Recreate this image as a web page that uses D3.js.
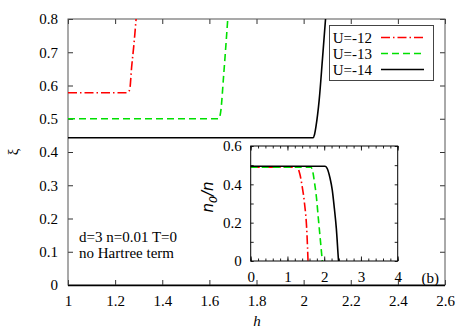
<!DOCTYPE html>
<html>
<head>
<meta charset="utf-8">
<script src="https://cdn.jsdelivr.net/npm/d3@7"></script>
<style>
  body { margin: 0; background: #fff; }
  text { font-family: "Liberation Serif", "DejaVu Serif", serif; font-size: 15px; fill: #000; }
</style>
</head>
<body>
<svg id="canvas"></svg>
<script>
// main panel data: xi vs h
let seriesNames = ['U=-12', 'U=-13', 'U=-14'];
let seriesColors = ['#ff0000', '#00e000', '#000000'];
let seriesDash = ['9,3,1.5,3', '7,4', null];

let hRed = [1.0, 1.249, 1.256, 1.262, 1.270, 1.280, 1.289];
let xiRed = [0.578, 0.578, 0.581, 0.588, 0.655, 0.725, 0.8];
let hGreen = [1.0, 1.638, 1.644, 1.649, 1.660, 1.670, 1.678];
let xiGreen = [0.5, 0.5, 0.506, 0.526, 0.625, 0.72, 0.8];
let hBlack = [1.0, 2.040, 2.046, 2.052, 2.066, 2.080, 2.093];
let xiBlack = [0.443, 0.443, 0.452, 0.475, 0.556, 0.68, 0.8];

// inset data: n0/n vs h
let hInRed = [0, 1.25, 1.30, 1.342, 1.40, 1.458, 1.532, 1.56];
let nInRed = [0.489, 0.489, 0.478, 0.45, 0.39, 0.311, 0.137, 0];
let hInGreen = [0, 1.64, 1.69, 1.731, 1.79, 1.84, 1.90, 1.948];
let nInGreen = [0.489, 0.489, 0.465, 0.416, 0.33, 0.224, 0.10, 0];
let hInBlack = [0, 2.02, 2.076, 2.158, 2.22, 2.275, 2.33, 2.384, 2.39];
let nInBlack = [0.494, 0.494, 0.485, 0.433, 0.37, 0.277, 0.17, 0.016, 0];

let xTicks = [1, 1.2, 1.4, 1.6, 1.8, 2, 2.2, 2.4, 2.6];
let yTicks = [0, 0.1, 0.2, 0.3, 0.4, 0.5, 0.6, 0.7, 0.8];
let inXTicks = [0, 1, 2, 3, 4];
let inYTicks = [0, 0.2, 0.4, 0.6];

let width = 473;
let height = 331;

let svg = d3.select('#canvas').attr('width', width).attr('height', height);

let xScale = d3.scaleLinear().domain([1, 2.6]).range([68, 445]);
let yScale = d3.scaleLinear().domain([0, 0.8]).range([285, 19]);

let ixScale = d3.scaleLinear().domain([0, 4]).range([250.7, 397.7]);
let iyScale = d3.scaleLinear().domain([0, 0.6]).range([261, 146]);

let mainSeries = [
  d3.zip(hRed, xiRed),
  d3.zip(hGreen, xiGreen),
  d3.zip(hBlack, xiBlack)
];
let insetSeries = [
  d3.zip(hInRed, nInRed),
  d3.zip(hInGreen, nInGreen),
  d3.zip(hInBlack, nInBlack)
];

// ---- main panel ----
svg.append('defs').append('clipPath').attr('id', 'clip')
  .append('rect')
  .attr('x', 68).attr('y', 19).attr('width', 377).attr('height', 266);

let xAxis = d3.axisBottom(xScale).tickValues(xTicks).tickSize(-5).tickPadding(10)
  .tickFormat(d3.format('~g'));
let yAxis = d3.axisLeft(yScale).tickValues(yTicks).tickSize(-5).tickPadding(10)
  .tickFormat(d3.format('~g'));

svg.append('g').attr('id', 'x-axis')
  .attr('transform', 'translate(0,285)')
  .call(xAxis)
  .call(g => g.select('.domain').remove());
svg.append('g').attr('id', 'y-axis')
  .attr('transform', 'translate(68,0)')
  .call(yAxis)
  .call(g => g.select('.domain').remove());
// mirrored ticks
svg.append('g').attr('transform', 'translate(0,19)')
  .call(d3.axisTop(xScale).tickValues(xTicks).tickSize(-5).tickFormat(''))
  .call(g => g.select('.domain').remove());
svg.append('g').attr('transform', 'translate(445,0)')
  .call(d3.axisRight(yScale).tickValues(yTicks).tickSize(-5).tickFormat(''))
  .call(g => g.select('.domain').remove());

svg.selectAll('.tick text')
  .style('font-family', '"Liberation Serif", serif')
  .style('font-size', '15px')
  .attr('fill', '#000');
svg.selectAll('.tick line').attr('stroke', '#333');

svg.append('rect')
  .attr('x', 68).attr('y', 19).attr('width', 377).attr('height', 266)
  .attr('fill', 'none').attr('stroke', '#555').attr('stroke-width', 1);
svg.append('line')
  .attr('x1', 68).attr('x2', 445).attr('y1', 285.5).attr('y2', 285.5)
  .attr('stroke', '#000').attr('stroke-width', 1.3);

let line = d3.line()
  .x(d => xScale(d[0]))
  .y(d => yScale(d[1]))
  .curve(d3.curveMonotoneX);

svg.append('g').attr('clip-path', 'url(#clip)')
  .selectAll('path')
  .data(mainSeries)
  .enter()
  .append('path')
  .attr('d', line)
  .attr('fill', 'none')
  .attr('stroke', (d, i) => seriesColors[i])
  .attr('stroke-width', 1.6)
  .attr('stroke-dasharray', (d, i) => seriesDash[i]);

// legend
let legend = svg.append('g').attr('id', 'legend');
legend.append('rect')
  .attr('x', 329.5).attr('y', 25.5).attr('width', 104).attr('height', 55)
  .attr('fill', '#fff').attr('stroke', '#444').attr('stroke-width', 1);
seriesNames.forEach((name, i) => {
  let y = 37.5 + i * 16;
  legend.append('text')
    .attr('x', 372).attr('y', y).attr('dy', '0.35em')
    .attr('text-anchor', 'end')
    .text(name);
  legend.append('line')
    .attr('x1', 381).attr('x2', 424).attr('y1', y).attr('y2', y)
    .attr('stroke', seriesColors[i]).attr('stroke-width', 1.6)
    .attr('stroke-dasharray', seriesDash[i]);
});

// annotations
svg.append('text').attr('x', 79).attr('y', 242).text('d=3 n=0.01 T=0');
svg.append('text').attr('x', 79).attr('y', 258).text('no Hartree term');

svg.append('text')
  .attr('transform', 'translate(13,152) rotate(-90)')
  .attr('text-anchor', 'middle')
  .attr('dy', '0.35em')
  .text('ξ');

svg.append('text')
  .attr('x', 257).attr('y', 326)
  .attr('text-anchor', 'middle')
  .style('font-style', 'italic')
  .text('h');

// ---- inset ----
let inset = svg.append('g');
inset.append('rect')
  .attr('x', 250.7).attr('y', 146).attr('width', 147).attr('height', 115)
  .attr('fill', '#fff');

let minorX = d3.range(0, 4.001, 0.2);
let minorY = d3.range(0, 0.601, 0.1);

inset.append('g').attr('transform', 'translate(0,261)')
  .call(d3.axisBottom(ixScale).tickValues(minorX).tickSize(-2.5).tickFormat(''))
  .call(g => g.select('.domain').remove());
inset.append('g').attr('transform', 'translate(0,146)')
  .call(d3.axisTop(ixScale).tickValues(minorX).tickSize(-2.5).tickFormat(''))
  .call(g => g.select('.domain').remove());
inset.append('g').attr('transform', 'translate(0,261)')
  .call(d3.axisBottom(ixScale).tickValues(inXTicks).tickSize(-4.5).tickPadding(10).tickFormat(d3.format('d')))
  .call(g => g.select('.domain').remove());
inset.append('g').attr('transform', 'translate(0,146)')
  .call(d3.axisTop(ixScale).tickValues(inXTicks).tickSize(-4.5).tickFormat(''))
  .call(g => g.select('.domain').remove());
inset.append('g').attr('transform', 'translate(250.7,0)')
  .call(d3.axisLeft(iyScale).tickValues(minorY).tickSize(-3).tickPadding(9).tickFormat(d => inYTicks.some(t => Math.abs(t - d) < 1e-9) ? d3.format('~g')(d) : ''))
  .call(g => g.select('.domain').remove());
inset.append('g').attr('transform', 'translate(397.7,0)')
  .call(d3.axisRight(iyScale).tickValues(minorY).tickSize(-3).tickFormat(''))
  .call(g => g.select('.domain').remove());

inset.selectAll('.tick text')
  .style('font-family', '"Liberation Serif", serif')
  .style('font-size', '15px')
  .attr('fill', '#000');
inset.selectAll('.tick line').attr('stroke', '#222');

let iline = d3.line()
  .x(d => ixScale(d[0]))
  .y(d => iyScale(d[1]))
  .curve(d3.curveMonotoneX);

inset.selectAll('path.curve')
  .data(insetSeries)
  .enter()
  .append('path')
  .attr('class', 'curve')
  .attr('d', iline)
  .attr('fill', 'none')
  .attr('stroke', (d, i) => seriesColors[i])
  .attr('stroke-width', 1.6)
  .attr('stroke-dasharray', (d, i) => seriesDash[i]);

inset.append('rect')
  .attr('x', 250.7).attr('y', 146).attr('width', 147).attr('height', 115)
  .attr('fill', 'none').attr('stroke', '#000').attr('stroke-width', 1);

let nlab = inset.append('text')
  .attr('transform', 'translate(213,197) rotate(-90)')
  .attr('text-anchor', 'middle')
  .style('font-family', '"DejaVu Sans", sans-serif')
  .style('font-style', 'italic');
nlab.append('tspan').text('n');
nlab.append('tspan').attr('dy', 4).style('font-size', '11px').text('0');
nlab.append('tspan').attr('dy', -4).text('/n');

inset.append('text')
  .attr('x', 439).attr('y', 278).attr('dy', '0.35em')
  .attr('text-anchor', 'end')
  .text('(b)');
</script>
</body>
</html>
